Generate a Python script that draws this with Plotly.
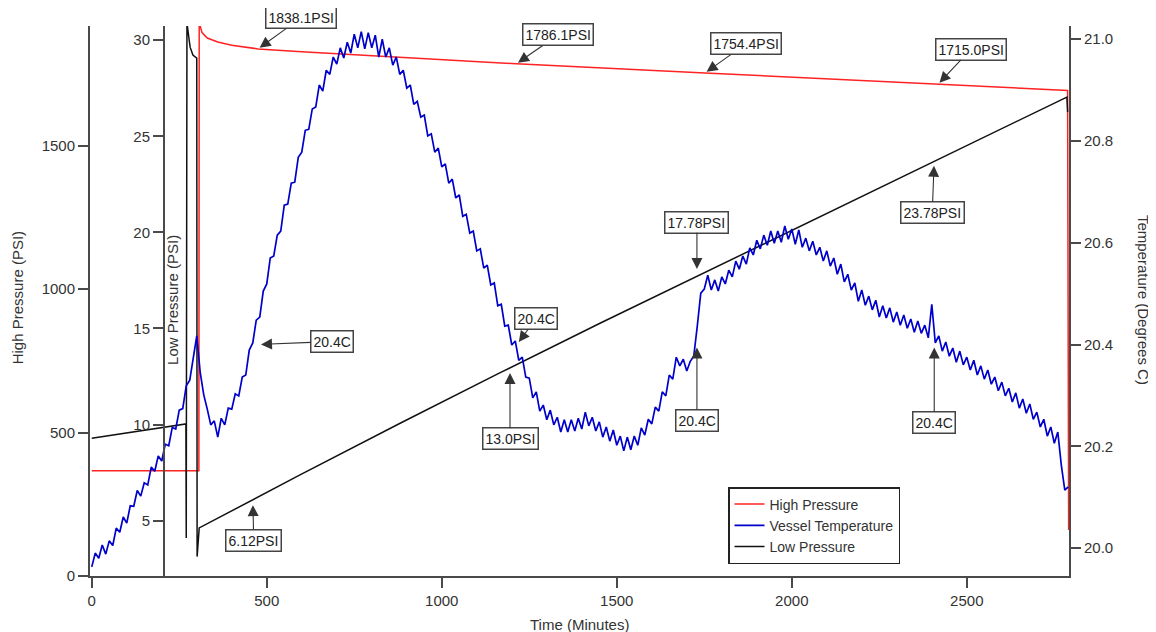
import plotly.graph_objects as go

# ---------------- data ----------------
hp_time = [0, 306, 307, 315, 330, 360, 400, 440, 475, 600, 750, 900, 1050, 1213, 1752, 2418, 2788, 2791]
hp_vals = [367, 367, 1930, 1895, 1876, 1862, 1851, 1843, 1838.1, 1828.5, 1818, 1807, 1796.5, 1786.1,
           1754.4, 1715.0, 1693, 160]

lp_time = [0, 269, 270, 272, 281, 289, 300, 301, 307, 595, 881, 1167, 1452, 1738, 2024, 2281, 2595, 2786, 2788]
lp_vals = [9.29, 10.03, 4.10, 30.9, 29.64, 29.23, 29.07, 3.13, 4.62, 7.38, 10.07, 12.70, 15.27, 17.79,
           20.34, 22.60, 25.36, 27.04, 26.26]

temp_time = list(range(0, 2800, 10))
temp_vals = [
    19.963, 19.990, 19.980, 20.006, 19.988, 20.014, 20.005, 20.039, 20.031, 20.061,
    20.049, 20.083, 20.082, 20.113, 20.102, 20.128, 20.124, 20.159, 20.151, 20.181,
    20.171, 20.204, 20.201, 20.237, 20.234, 20.271, 20.274, 20.319, 20.330, 20.376,
    20.417, 20.344, 20.301, 20.273, 20.242, 20.250, 20.218, 20.255, 20.242, 20.275,
    20.273, 20.303, 20.299, 20.336, 20.340, 20.389, 20.403, 20.448, 20.454, 20.505,
    20.519, 20.570, 20.574, 20.615, 20.623, 20.674, 20.676, 20.717, 20.719, 20.768,
    20.778, 20.821, 20.823, 20.863, 20.867, 20.910, 20.898, 20.939, 20.931, 20.965,
    20.951, 20.983, 20.963, 20.994, 20.973, 21.010, 20.983, 21.015, 20.981, 21.013,
    20.983, 21.008, 20.965, 21.000, 20.965, 20.983, 20.949, 20.965, 20.931, 20.939,
    20.904, 20.910, 20.872, 20.878, 20.847, 20.851, 20.810, 20.814, 20.778, 20.786,
    20.749, 20.755, 20.717, 20.725, 20.688, 20.694, 20.652, 20.656, 20.619, 20.623,
    20.584, 20.588, 20.550, 20.556, 20.517, 20.521, 20.476, 20.479, 20.436, 20.438,
    20.399, 20.407, 20.369, 20.375, 20.336, 20.334, 20.295, 20.307, 20.269, 20.281,
    20.252, 20.271, 20.242, 20.257, 20.228, 20.252, 20.228, 20.252, 20.230, 20.255,
    20.234, 20.267, 20.240, 20.257, 20.230, 20.248, 20.218, 20.238, 20.210, 20.232,
    20.202, 20.220, 20.191, 20.218, 20.193, 20.220, 20.202, 20.236, 20.222, 20.253,
    20.244, 20.277, 20.269, 20.307, 20.299, 20.340, 20.332, 20.375, 20.358, 20.371,
    20.348, 20.367, 20.377, 20.436, 20.501, 20.509, 20.536, 20.507, 20.527, 20.505,
    20.533, 20.519, 20.546, 20.533, 20.564, 20.548, 20.574, 20.558, 20.590, 20.576,
    20.605, 20.588, 20.615, 20.595, 20.623, 20.599, 20.623, 20.601, 20.633, 20.607,
    20.627, 20.597, 20.625, 20.591, 20.609, 20.584, 20.603, 20.576, 20.591, 20.564,
    20.584, 20.554, 20.570, 20.538, 20.558, 20.523, 20.538, 20.507, 20.521, 20.485,
    20.507, 20.477, 20.495, 20.468, 20.487, 20.454, 20.476, 20.452, 20.472, 20.444,
    20.464, 20.438, 20.458, 20.432, 20.450, 20.424, 20.446, 20.422, 20.438, 20.413,
    20.479, 20.403, 20.417, 20.387, 20.405, 20.377, 20.393, 20.365, 20.387, 20.360,
    20.375, 20.350, 20.369, 20.340, 20.358, 20.332, 20.350, 20.322, 20.336, 20.309,
    20.326, 20.299, 20.314, 20.287, 20.305, 20.275, 20.293, 20.265, 20.283, 20.253,
    20.267, 20.238, 20.253, 20.220, 20.238, 20.206, 20.228, 20.163, 20.114, 20.120,
]

x_ticks = [0, 500, 1000, 1500, 2000, 2500]
hp_ticks = [0, 500, 1000, 1500]
lp_ticks = [5, 10, 15, 20, 25, 30]
temp_ticks = [20.0, 20.2, 20.4, 20.6, 20.8, 21.0]

# labelled readings: (text, time, value)
hp_labels = [("1838.1PSI", 475, 1838.1), ("1786.1PSI", 1213, 1786.1),
             ("1754.4PSI", 1752, 1754.4), ("1715.0PSI", 2418, 1715.0)]
lp_labels = [("6.12PSI", 460, 6.12), ("13.0PSI", 1195, 13.0),
             ("17.78PSI", 1729, 17.78), ("23.78PSI", 2407, 23.78)]
temp_labels = [("20.4C", 475, 20.4), ("20.4C", 1215, 20.4),
               ("20.4C", 1729, 20.4), ("20.4C", 2407, 20.4)]

# ---------------- figure ----------------
FONT = "Liberation Sans, Arial, sans-serif"
AX = "#4a4a4a"
TXT = "#333333"

fig = go.Figure()
fig.add_trace(go.Scatter(x=hp_time, y=hp_vals, name="High Pressure", mode="lines",
                         line=dict(color="#ff2222", width=1.5), yaxis="y"))
fig.add_trace(go.Scatter(x=temp_time, y=temp_vals, name="Vessel Temperature", mode="lines",
                         line=dict(color="#0000cc", width=1.7), yaxis="y3"))
fig.add_trace(go.Scatter(x=lp_time, y=lp_vals, name="Low Pressure", mode="lines",
                         line=dict(color="#111111", width=1.5), yaxis="y2"))

axis_common = dict(showline=True, linecolor=AX, linewidth=2, ticks="outside", ticklen=10,
                   tickwidth=2, tickcolor=AX, showgrid=False, zeroline=False, automargin=False,
                   tickfont=dict(family=FONT, size=15, color=TXT))

# page body has an 8px margin; figure is sized so the plot sits where the reference has it
fig.update_layout(
    width=1148, height=624,
    margin=dict(l=82, r=87, t=18, b=56),
    paper_bgcolor="white", plot_bgcolor="white",
    font=dict(family=FONT, size=15, color=TXT),
    xaxis=dict(domain=[0, 1], range=[-5, 2792], tickvals=x_ticks, **axis_common),
    yaxis=dict(range=[0, 1918], tickvals=hp_ticks, side="left", **axis_common),
    yaxis2=dict(range=[2.12, 30.74], tickvals=lp_ticks, overlaying="y", anchor="free",
                position=0.0756, side="left", **axis_common),
    yaxis3=dict(range=[19.945, 21.026], tickvals=temp_ticks, tickformat=".1f",
                overlaying="y", anchor="x", side="right", **axis_common),
    legend=dict(x=0.6517, y=0.1618, xanchor="left", yanchor="top", bgcolor="white",
                bordercolor="#222", borderwidth=1.5, itemwidth=30,
                font=dict(family=FONT, size=14, color=TXT)),
    showlegend=True,
)

annos = []
title_font = dict(family=FONT, size=15, color=TXT)
annos.append(dict(text="High Pressure (PSI)", xref="paper", yref="paper", x=-0.0745, y=0.505,
                  xanchor="center", yanchor="middle", textangle=-90, showarrow=False, font=title_font))
annos.append(dict(text="Low Pressure (PSI)", xref="paper", yref="paper", x=0.0848, y=0.502,
                  xanchor="center", yanchor="middle", textangle=-90, showarrow=False, font=title_font))
annos.append(dict(text="Temperature (Degrees C)", xref="paper", yref="paper", x=1.0756, y=0.502,
                  xanchor="center", yanchor="middle", textangle=90, showarrow=False, font=title_font))
annos.append(dict(text="Time (Minutes)", xref="paper", yref="paper", x=0.5, y=-0.0873,
                  xanchor="center", yanchor="middle", showarrow=False, font=title_font))

box = dict(showarrow=True, arrowhead=2, arrowsize=2.0, arrowwidth=1.1, arrowcolor="#333",
           bgcolor="white", bordercolor="#444", borderwidth=1.5, borderpad=2,
           font=dict(family=FONT, size=14, color="#222"))

hp_offsets = [(43, -31), (42, -29), (41, -29), (33, -35)]
for (txt, t, v), (ax, ay) in zip(hp_labels, hp_offsets):
    annos.append(dict(text=txt, x=t, y=v, xref="x", yref="y", ax=ax, ay=ay, standoff=2, **box))

lp_offsets = [(1, 41), (0, 72), (0, -53), (-2, 53)]
for (txt, t, v), (ax, ay) in zip(lp_labels, lp_offsets):
    annos.append(dict(text=txt, x=t, y=v, xref="x", yref="y2", ax=ax, ay=ay, standoff=6, **box))

temp_offsets = [(74, -3), (19, -26), (0, 76), (0, 78)]
for (txt, t, v), (ax, ay) in zip(temp_labels, temp_offsets):
    annos.append(dict(text=txt, x=t, y=v, xref="x", yref="y3", ax=ax, ay=ay, standoff=3, **box))

fig.update_layout(annotations=annos)

fig.write_html("out.html")
